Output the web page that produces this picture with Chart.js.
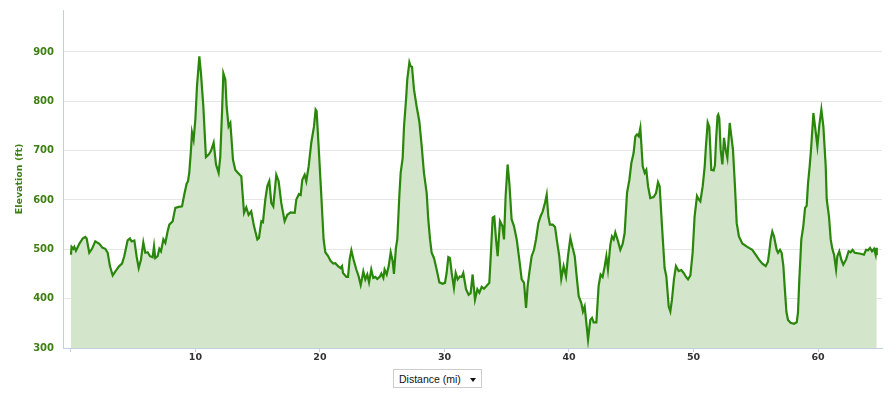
<!DOCTYPE html>
<html>
<head>
<meta charset="utf-8">
<script src="https://cdn.jsdelivr.net/npm/chart.js@4.4.1/dist/chart.umd.min.js"></script>
<style>
  html, body { margin: 0; padding: 0; background: #ffffff; }
  #wrap { position: relative; width: 894px; height: 394px; }
  #c { position: absolute; left: 0; top: 0; }
  #xsel {
    position: absolute; left: 393px; top: 369px; width: 87px; height: 17px;
    border: 1px solid #cccccc; background: #fff; box-sizing: content-box;
    font-family: "Liberation Sans", Arial, sans-serif; font-size: 10.5px; color: #111;
  }
  #xsel span { position: absolute; left: 5px; top: 3px; }
  #xsel i {
    position: absolute; left: 76px; top: 8px; width: 0; height: 0;
    border-left: 3.5px solid transparent; border-right: 3.5px solid transparent;
    border-top: 4px solid #111;
  }
</style>
</head>
<body>
<div id="wrap">
  <canvas id="c" width="894" height="394"></canvas>
  <div id="xsel"><span>Distance (mi)</span><i></i></div>
</div>
<script>
// Distance along the route (miles)
const distanceMi = [
  0.00,0.05,0.19,0.27,0.40,0.67,0.94,1.15,1.26,1.47,1.69,1.95,2.28,2.54,2.76,2.95,3.13,3.35,3.61,3.88,
  4.10,4.28,4.55,4.74,4.87,5.09,5.27,5.44,5.62,5.81,5.97,6.16,6.35,6.56,6.67,6.77,6.96,7.10,7.23,7.42,
  7.58,7.76,7.90,8.17,8.38,8.65,8.92,9.10,9.29,9.40,9.50,9.64,9.72,9.85,9.99,10.12,10.31,10.44,10.63,10.84,
  11.06,11.24,11.46,11.65,11.86,11.99,12.13,12.24,12.40,12.50,12.66,12.80,12.92,13.01,13.20,13.55,13.68,13.90,14.08,14.27,
  14.48,14.70,14.97,15.10,15.29,15.42,15.61,15.77,15.93,16.09,16.25,16.49,16.68,16.89,17.16,17.38,17.64,17.97,18.10,18.31,
  18.45,18.58,18.77,18.90,19.09,19.30,19.52,19.65,19.73,19.89,20.11,20.29,20.43,20.64,20.86,21.07,21.23,21.45,21.66,21.77,
  21.85,22.12,22.25,22.38,22.52,22.70,22.92,23.11,23.27,23.37,23.48,23.64,23.80,23.94,24.12,24.28,24.44,24.60,24.79,24.93,
  25.09,25.19,25.36,25.52,25.68,25.84,25.94,26.10,26.21,26.37,26.48,26.64,26.75,26.91,27.01,27.18,27.28,27.39,27.55,27.76,
  27.98,28.17,28.35,28.57,28.70,28.84,28.97,29.16,29.37,29.59,29.85,30.04,30.17,30.31,30.44,30.58,30.76,30.90,31.06,31.24,
  31.38,31.51,31.73,31.94,32.10,32.26,32.45,32.64,32.80,32.99,33.17,33.39,33.60,33.73,33.87,34.00,34.14,34.27,34.46,34.65,
  34.78,34.91,35.07,35.21,35.39,35.58,35.80,36.01,36.20,36.39,36.55,36.68,36.81,37.00,37.19,37.35,37.54,37.72,37.89,38.07,
  38.21,38.34,38.47,38.69,38.88,39.04,39.22,39.38,39.57,39.76,39.92,40.11,40.29,40.46,40.64,40.78,40.99,41.12,41.26,41.53,
  41.71,41.85,41.98,42.20,42.38,42.54,42.70,42.87,43.00,43.13,43.32,43.45,43.59,43.72,43.94,44.12,44.31,44.47,44.66,44.85,
  45.01,45.19,45.33,45.46,45.60,45.73,45.92,46.08,46.21,46.35,46.53,46.80,46.99,47.15,47.28,47.47,47.68,47.82,48.01,48.14,
  48.27,48.43,48.59,48.81,49.02,49.21,49.40,49.56,49.75,49.93,50.09,50.28,50.42,50.55,50.74,50.90,51.00,51.14,51.27,51.43,
  51.62,51.72,51.82,51.93,51.99,52.07,52.18,52.32,52.45,52.58,52.72,52.91,53.04,53.17,53.33,53.47,53.65,53.92,54.32,54.72,
  54.99,55.26,55.53,55.80,55.98,56.09,56.20,56.33,56.47,56.68,56.79,56.95,57.08,57.22,57.32,57.46,57.59,57.80,58.07,58.29,
  58.39,58.50,58.66,58.82,58.96,59.09,59.20,59.33,59.46,59.63,59.76,59.95,60.11,60.27,60.43,60.62,60.70,60.88,61.02,61.15,
  61.29,61.45,61.55,61.71,61.87,62.03,62.25,62.46,62.62,62.78,62.95,63.43,63.69,63.86,64.02,64.18,64.34,64.50,64.63,64.68,
  64.72
];

// Elevation (ft) at each distance
const elevationFt = [
  489,505,501,505,497,511,522,525,522,493,501,516,511,503,501,493,466,447,457,466,
  471,486,518,522,516,518,486,462,479,514,493,494,486,484,506,482,486,501,496,520,
  513,536,550,557,584,586,587,611,633,638,655,702,737,722,763,830,891,857,790,687,
  692,699,716,672,655,687,776,857,844,790,749,756,715,682,661,651,648,574,585,570,
  577,547,520,523,557,555,601,628,638,594,587,651,638,594,557,570,575,574,601,612,
  610,641,651,638,668,716,749,783,780,709,607,520,494,487,476,471,472,466,462,466,
  452,444,444,479,498,479,459,445,428,440,455,439,449,433,459,442,444,440,444,451,
  442,459,449,466,494,476,450,503,520,607,655,685,749,803,844,879,871,870,824,790,
  759,709,655,614,560,520,493,482,459,433,430,432,452,484,482,452,422,452,439,445,
  444,452,419,408,411,449,398,419,412,424,420,426,432,493,564,566,520,486,557,547,
  520,607,672,634,561,547,520,479,439,432,381,426,452,486,499,520,553,567,577,594,
  611,567,550,550,545,516,486,440,466,445,486,523,503,486,439,405,391,374,384,317,
  357,361,352,352,426,449,444,466,486,459,509,526,520,534,516,499,511,533,614,641,
  675,695,729,733,729,746,668,655,661,628,604,606,614,636,628,547,462,445,384,374,
  398,439,466,456,458,452,444,439,447,493,567,608,601,597,628,668,709,757,748,661,
  660,670,725,770,773,766,702,672,726,702,685,756,729,702,628,553,526,512,505,499,
  489,479,471,466,475,496,520,536,526,499,493,499,493,466,426,374,357,351,349,352,
  371,439,520,547,584,588,634,668,709,776,749,709,752,783,749,668,601,567,520,501,
  489,459,486,496,479,469,479,496,494,499,493,491,489,499,498,503,496,501,489,503,
  488
];

// Axis ticks
const xTickValues = [0, 10, 20, 30, 40, 50, 60];
const xTickLabels = ['', '10', '20', '30', '40', '50', '60'];
const yTickValues = [300, 400, 500, 600, 700, 800, 900];
const yTickLabels = ['300', '400', '500', '600', '700', '800', '900'];

const points = distanceMi.map((d, i) => ({ x: d, y: elevationFt[i] }));

const axisColor = '#c0d0e0';
const labelGreen = '#3f7f14';

new Chart(document.getElementById('c'), {
  type: 'line',
  data: {
    datasets: [{
      data: points,
      borderColor: '#2a870c',
      backgroundColor: '#d3e6cb',
      borderWidth: 2.2,
      pointRadius: 0,
      tension: 0,
      fill: 'start'
    }]
  },
  options: {
    responsive: false,
    animation: false,
    layout: { padding: { left: 0, top: 10, right: 12, bottom: 0 } },
    plugins: { legend: { display: false }, tooltip: { enabled: false } },
    scales: {
      x: {
        type: 'linear',
        min: -0.64,
        max: 65.14,
        afterBuildTicks: (s) => { s.ticks = xTickValues.map(v => ({ value: v })); },
        afterFit: (s) => { s.height = 46; s.paddingLeft = 0; s.paddingRight = 0; },
        ticks: {
          autoSkip: false,
          maxRotation: 0,
          padding: 0,
          color: '#333333',
          font: { family: 'DejaVu Sans', size: 9.5, weight: 'bold' },
          callback: (v) => { const i = xTickValues.indexOf(v); return i >= 0 ? xTickLabels[i] : ''; }
        },
        grid: { drawOnChartArea: false, drawTicks: true, tickLength: 4, color: axisColor },
        border: { color: axisColor, width: 1 }
      },
      y: {
        min: 300,
        max: 985,
        afterBuildTicks: (s) => { s.ticks = yTickValues.map(v => ({ value: v })); },
        afterFit: (s) => { s.width = 63; s.paddingTop = 0; s.paddingBottom = 0; },
        ticks: {
          padding: 9,
          color: labelGreen,
          font: { family: 'DejaVu Sans', size: 10, weight: 'bold' },
          callback: (v) => { const i = yTickValues.indexOf(v); return i >= 0 ? yTickLabels[i] : ''; }
        },
        grid: { color: '#e6e6e6', drawTicks: false },
        border: { color: axisColor, width: 1 },
        title: {
          display: true,
          text: 'Elevation (ft)',
          color: labelGreen,
          font: { family: 'DejaVu Sans', size: 9.5, weight: 'bold' },
          padding: { top: 14, bottom: 0 }
        }
      }
    }
  }
});
</script>
</body>
</html>
